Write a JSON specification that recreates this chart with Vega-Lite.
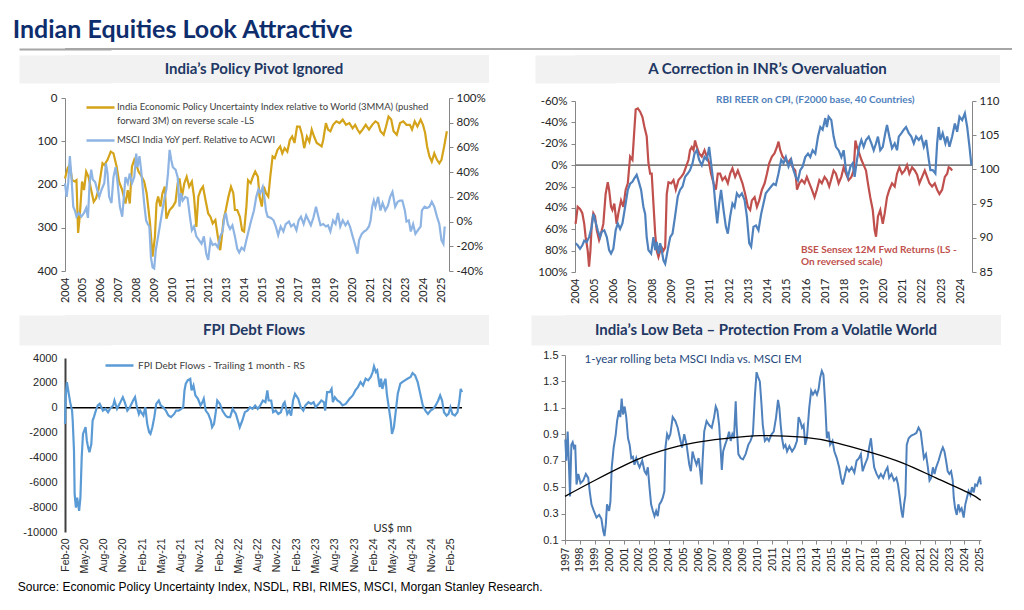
{
  "$schema": "https://vega.github.io/schema/vega-lite/v6.json",
  "background": "white",
  "padding": {"left": 12, "top": 18, "right": 4, "bottom": 4},
  "title": {"text": "Indian Equities Look Attractive", "anchor": "start", "font": "Lato", "fontSize": 25, "fontWeight": "bold", "color": "#0E2D6D", "offset": 5, "dx": -5},
  "config": {
    "view": {"stroke": null},
    "axis": {"grid": false, "labelOverlap": false, "tickCount": 100, "labelFont": "Lato", "labelFontSize": 11, "labelColor": "#262626", "domainColor": "#868686", "tickColor": "#868686", "tickSize": 4, "labelPadding": 3},
    "legend": {"labelFont": "Lato"}
  },
  "datasets": {
    "tl": [
      {"s":"EPU","t":2004.00,"v":186},{"s":"EPU","t":2004.15,"v":162},{"s":"EPU","t":2004.27,"v":155},{"s":"EPU","t":2004.40,"v":190},{"s":"EPU","t":2004.55,"v":193},{"s":"EPU","t":2004.64,"v":190},{"s":"EPU","t":2004.73,"v":312},{"s":"EPU","t":2004.82,"v":275},{"s":"EPU","t":2004.95,"v":193},{"s":"EPU","t":2005.06,"v":213},{"s":"EPU","t":2005.18,"v":170},{"s":"EPU","t":2005.31,"v":182},{"s":"EPU","t":2005.46,"v":213},{"s":"EPU","t":2005.60,"v":240},{"s":"EPU","t":2005.73,"v":232},{"s":"EPU","t":2005.86,"v":213},{"s":"EPU","t":2006.09,"v":151},{"s":"EPU","t":2006.19,"v":155},{"s":"EPU","t":2006.37,"v":143},{"s":"EPU","t":2006.55,"v":124},{"s":"EPU","t":2006.70,"v":128},{"s":"EPU","t":2006.88,"v":159},{"s":"EPU","t":2007.01,"v":193},{"s":"EPU","t":2007.19,"v":213},{"s":"EPU","t":2007.37,"v":244},{"s":"EPU","t":2007.50,"v":213},{"s":"EPU","t":2007.61,"v":244},{"s":"EPU","t":2007.73,"v":159},{"s":"EPU","t":2007.86,"v":143},{"s":"EPU","t":2008.01,"v":159},{"s":"EPU","t":2008.10,"v":170},{"s":"EPU","t":2008.28,"v":182},{"s":"EPU","t":2008.41,"v":193},{"s":"EPU","t":2008.55,"v":220},{"s":"EPU","t":2008.74,"v":290},{"s":"EPU","t":2008.88,"v":367},{"s":"EPU","t":2009.01,"v":321},{"s":"EPU","t":2009.10,"v":244},{"s":"EPU","t":2009.19,"v":228},{"s":"EPU","t":2009.32,"v":251},{"s":"EPU","t":2009.43,"v":220},{"s":"EPU","t":2009.56,"v":205},{"s":"EPU","t":2009.65,"v":279},{"s":"EPU","t":2009.83,"v":259},{"s":"EPU","t":2010.01,"v":251},{"s":"EPU","t":2010.16,"v":240},{"s":"EPU","t":2010.28,"v":197},{"s":"EPU","t":2010.38,"v":186},{"s":"EPU","t":2010.52,"v":228},{"s":"EPU","t":2010.65,"v":197},{"s":"EPU","t":2010.78,"v":182},{"s":"EPU","t":2010.92,"v":205},{"s":"EPU","t":2011.07,"v":193},{"s":"EPU","t":2011.19,"v":228},{"s":"EPU","t":2011.32,"v":298},{"s":"EPU","t":2011.43,"v":228},{"s":"EPU","t":2011.56,"v":213},{"s":"EPU","t":2011.69,"v":205},{"s":"EPU","t":2011.83,"v":236},{"s":"EPU","t":2011.98,"v":267},{"s":"EPU","t":2012.11,"v":275},{"s":"EPU","t":2012.23,"v":290},{"s":"EPU","t":2012.38,"v":282},{"s":"EPU","t":2012.52,"v":321},{"s":"EPU","t":2012.65,"v":352},{"s":"EPU","t":2012.74,"v":321},{"s":"EPU","t":2012.83,"v":282},{"s":"EPU","t":2012.96,"v":259},{"s":"EPU","t":2013.11,"v":228},{"s":"EPU","t":2013.25,"v":205},{"s":"EPU","t":2013.38,"v":220},{"s":"EPU","t":2013.47,"v":259},{"s":"EPU","t":2013.60,"v":259},{"s":"EPU","t":2013.75,"v":275},{"s":"EPU","t":2013.87,"v":306},{"s":"EPU","t":2013.98,"v":309},{"s":"EPU","t":2014.11,"v":251},{"s":"EPU","t":2014.20,"v":190},{"s":"EPU","t":2014.35,"v":197},{"s":"EPU","t":2014.47,"v":182},{"s":"EPU","t":2014.60,"v":170},{"s":"EPU","t":2014.75,"v":182},{"s":"EPU","t":2014.84,"v":228},{"s":"EPU","t":2014.97,"v":251},{"s":"EPU","t":2015.08,"v":205},{"s":"EPU","t":2015.20,"v":220},{"s":"EPU","t":2015.33,"v":228},{"s":"EPU","t":2015.44,"v":182},{"s":"EPU","t":2015.57,"v":135},{"s":"EPU","t":2015.69,"v":139},{"s":"EPU","t":2015.84,"v":120},{"s":"EPU","t":2015.99,"v":112},{"s":"EPU","t":2016.11,"v":128},{"s":"EPU","t":2016.24,"v":116},{"s":"EPU","t":2016.39,"v":124},{"s":"EPU","t":2016.53,"v":97},{"s":"EPU","t":2016.66,"v":89},{"s":"EPU","t":2016.79,"v":104},{"s":"EPU","t":2016.93,"v":66},{"s":"EPU","t":2017.08,"v":66},{"s":"EPU","t":2017.21,"v":85},{"s":"EPU","t":2017.33,"v":116},{"s":"EPU","t":2017.48,"v":89},{"s":"EPU","t":2017.62,"v":101},{"s":"EPU","t":2017.75,"v":73},{"s":"EPU","t":2017.88,"v":89},{"s":"EPU","t":2018.03,"v":104},{"s":"EPU","t":2018.17,"v":108},{"s":"EPU","t":2018.30,"v":112},{"s":"EPU","t":2018.39,"v":97},{"s":"EPU","t":2018.54,"v":58},{"s":"EPU","t":2018.66,"v":73},{"s":"EPU","t":2018.79,"v":77},{"s":"EPU","t":2018.94,"v":62},{"s":"EPU","t":2019.12,"v":54},{"s":"EPU","t":2019.30,"v":58},{"s":"EPU","t":2019.48,"v":50},{"s":"EPU","t":2019.66,"v":62},{"s":"EPU","t":2019.85,"v":58},{"s":"EPU","t":2020.03,"v":70},{"s":"EPU","t":2020.17,"v":62},{"s":"EPU","t":2020.30,"v":73},{"s":"EPU","t":2020.43,"v":81},{"s":"EPU","t":2020.58,"v":73},{"s":"EPU","t":2020.76,"v":62},{"s":"EPU","t":2020.94,"v":73},{"s":"EPU","t":2021.12,"v":62},{"s":"EPU","t":2021.30,"v":54},{"s":"EPU","t":2021.45,"v":58},{"s":"EPU","t":2021.58,"v":77},{"s":"EPU","t":2021.76,"v":85},{"s":"EPU","t":2021.89,"v":66},{"s":"EPU","t":2022.03,"v":43},{"s":"EPU","t":2022.18,"v":50},{"s":"EPU","t":2022.31,"v":77},{"s":"EPU","t":2022.49,"v":85},{"s":"EPU","t":2022.67,"v":58},{"s":"EPU","t":2022.85,"v":54},{"s":"EPU","t":2023.03,"v":62},{"s":"EPU","t":2023.22,"v":62},{"s":"EPU","t":2023.34,"v":73},{"s":"EPU","t":2023.49,"v":54},{"s":"EPU","t":2023.64,"v":66},{"s":"EPU","t":2023.82,"v":50},{"s":"EPU","t":2023.95,"v":62},{"s":"EPU","t":2024.07,"v":81},{"s":"EPU","t":2024.18,"v":112},{"s":"EPU","t":2024.31,"v":135},{"s":"EPU","t":2024.44,"v":147},{"s":"EPU","t":2024.58,"v":128},{"s":"EPU","t":2024.73,"v":143},{"s":"EPU","t":2024.86,"v":151},{"s":"EPU","t":2024.98,"v":143},{"s":"EPU","t":2025.13,"v":112},{"s":"EPU","t":2025.28,"v":77},
      {"s":"MSCI","t":2004.00,"v":31},{"s":"MSCI","t":2004.09,"v":20},{"s":"MSCI","t":2004.18,"v":31},{"s":"MSCI","t":2004.27,"v":53},{"s":"MSCI","t":2004.36,"v":36},{"s":"MSCI","t":2004.46,"v":12},{"s":"MSCI","t":2004.55,"v":9},{"s":"MSCI","t":2004.64,"v":4},{"s":"MSCI","t":2004.77,"v":7},{"s":"MSCI","t":2004.91,"v":4},{"s":"MSCI","t":2005.06,"v":7},{"s":"MSCI","t":2005.18,"v":11},{"s":"MSCI","t":2005.28,"v":3},{"s":"MSCI","t":2005.37,"v":31},{"s":"MSCI","t":2005.46,"v":42},{"s":"MSCI","t":2005.55,"v":34},{"s":"MSCI","t":2005.68,"v":32},{"s":"MSCI","t":2005.79,"v":26},{"s":"MSCI","t":2005.91,"v":20},{"s":"MSCI","t":2006.04,"v":26},{"s":"MSCI","t":2006.19,"v":31},{"s":"MSCI","t":2006.28,"v":47},{"s":"MSCI","t":2006.37,"v":39},{"s":"MSCI","t":2006.46,"v":20},{"s":"MSCI","t":2006.59,"v":15},{"s":"MSCI","t":2006.70,"v":36},{"s":"MSCI","t":2006.82,"v":44},{"s":"MSCI","t":2006.91,"v":34},{"s":"MSCI","t":2007.06,"v":12},{"s":"MSCI","t":2007.19,"v":4},{"s":"MSCI","t":2007.28,"v":20},{"s":"MSCI","t":2007.37,"v":36},{"s":"MSCI","t":2007.50,"v":31},{"s":"MSCI","t":2007.61,"v":39},{"s":"MSCI","t":2007.73,"v":31},{"s":"MSCI","t":2007.86,"v":36},{"s":"MSCI","t":2007.97,"v":55},{"s":"MSCI","t":2008.04,"v":44},{"s":"MSCI","t":2008.15,"v":53},{"s":"MSCI","t":2008.24,"v":42},{"s":"MSCI","t":2008.34,"v":26},{"s":"MSCI","t":2008.43,"v":12},{"s":"MSCI","t":2008.52,"v":1},{"s":"MSCI","t":2008.61,"v":-2},{"s":"MSCI","t":2008.70,"v":-4},{"s":"MSCI","t":2008.79,"v":-29},{"s":"MSCI","t":2008.88,"v":-37},{"s":"MSCI","t":2008.97,"v":-38},{"s":"MSCI","t":2009.06,"v":-23},{"s":"MSCI","t":2009.19,"v":-12},{"s":"MSCI","t":2009.28,"v":-4},{"s":"MSCI","t":2009.37,"v":4},{"s":"MSCI","t":2009.46,"v":12},{"s":"MSCI","t":2009.56,"v":20},{"s":"MSCI","t":2009.65,"v":26},{"s":"MSCI","t":2009.74,"v":39},{"s":"MSCI","t":2009.83,"v":58},{"s":"MSCI","t":2009.92,"v":50},{"s":"MSCI","t":2010.01,"v":44},{"s":"MSCI","t":2010.16,"v":42},{"s":"MSCI","t":2010.28,"v":36},{"s":"MSCI","t":2010.38,"v":12},{"s":"MSCI","t":2010.47,"v":23},{"s":"MSCI","t":2010.56,"v":17},{"s":"MSCI","t":2010.70,"v":20},{"s":"MSCI","t":2010.83,"v":19},{"s":"MSCI","t":2010.96,"v":4},{"s":"MSCI","t":2011.07,"v":-7},{"s":"MSCI","t":2011.19,"v":-4},{"s":"MSCI","t":2011.32,"v":-12},{"s":"MSCI","t":2011.47,"v":-15},{"s":"MSCI","t":2011.61,"v":-18},{"s":"MSCI","t":2011.74,"v":-12},{"s":"MSCI","t":2011.87,"v":-26},{"s":"MSCI","t":2011.98,"v":-31},{"s":"MSCI","t":2012.11,"v":-15},{"s":"MSCI","t":2012.23,"v":-19},{"s":"MSCI","t":2012.38,"v":-18},{"s":"MSCI","t":2012.52,"v":-21},{"s":"MSCI","t":2012.65,"v":-12},{"s":"MSCI","t":2012.78,"v":-8},{"s":"MSCI","t":2012.89,"v":4},{"s":"MSCI","t":2012.96,"v":7},{"s":"MSCI","t":2013.07,"v":-2},{"s":"MSCI","t":2013.20,"v":-6},{"s":"MSCI","t":2013.33,"v":-3},{"s":"MSCI","t":2013.47,"v":-12},{"s":"MSCI","t":2013.60,"v":-22},{"s":"MSCI","t":2013.71,"v":-25},{"s":"MSCI","t":2013.84,"v":-21},{"s":"MSCI","t":2013.98,"v":-23},{"s":"MSCI","t":2014.11,"v":-15},{"s":"MSCI","t":2014.24,"v":-7},{"s":"MSCI","t":2014.38,"v":1},{"s":"MSCI","t":2014.53,"v":9},{"s":"MSCI","t":2014.66,"v":20},{"s":"MSCI","t":2014.78,"v":26},{"s":"MSCI","t":2014.89,"v":23},{"s":"MSCI","t":2015.02,"v":28},{"s":"MSCI","t":2015.11,"v":20},{"s":"MSCI","t":2015.20,"v":9},{"s":"MSCI","t":2015.29,"v":4},{"s":"MSCI","t":2015.48,"v":3},{"s":"MSCI","t":2015.62,"v":1},{"s":"MSCI","t":2015.75,"v":-4},{"s":"MSCI","t":2015.88,"v":-11},{"s":"MSCI","t":2016.02,"v":-4},{"s":"MSCI","t":2016.17,"v":-8},{"s":"MSCI","t":2016.30,"v":-2},{"s":"MSCI","t":2016.48,"v":0},{"s":"MSCI","t":2016.60,"v":-4},{"s":"MSCI","t":2016.75,"v":-2},{"s":"MSCI","t":2016.90,"v":-7},{"s":"MSCI","t":2017.02,"v":1},{"s":"MSCI","t":2017.15,"v":4},{"s":"MSCI","t":2017.30,"v":-2},{"s":"MSCI","t":2017.44,"v":5},{"s":"MSCI","t":2017.57,"v":1},{"s":"MSCI","t":2017.70,"v":-3},{"s":"MSCI","t":2017.84,"v":3},{"s":"MSCI","t":2017.99,"v":12},{"s":"MSCI","t":2018.12,"v":4},{"s":"MSCI","t":2018.24,"v":-3},{"s":"MSCI","t":2018.39,"v":-2},{"s":"MSCI","t":2018.54,"v":-4},{"s":"MSCI","t":2018.66,"v":-3},{"s":"MSCI","t":2018.79,"v":-8},{"s":"MSCI","t":2018.94,"v":1},{"s":"MSCI","t":2019.08,"v":-2},{"s":"MSCI","t":2019.21,"v":7},{"s":"MSCI","t":2019.34,"v":-4},{"s":"MSCI","t":2019.48,"v":1},{"s":"MSCI","t":2019.63,"v":-3},{"s":"MSCI","t":2019.76,"v":0},{"s":"MSCI","t":2019.88,"v":-4},{"s":"MSCI","t":2020.03,"v":-12},{"s":"MSCI","t":2020.17,"v":-19},{"s":"MSCI","t":2020.30,"v":-26},{"s":"MSCI","t":2020.39,"v":-15},{"s":"MSCI","t":2020.54,"v":-10},{"s":"MSCI","t":2020.67,"v":-8},{"s":"MSCI","t":2020.79,"v":-7},{"s":"MSCI","t":2020.94,"v":-4},{"s":"MSCI","t":2021.03,"v":1},{"s":"MSCI","t":2021.12,"v":12},{"s":"MSCI","t":2021.21,"v":17},{"s":"MSCI","t":2021.30,"v":12},{"s":"MSCI","t":2021.45,"v":20},{"s":"MSCI","t":2021.58,"v":9},{"s":"MSCI","t":2021.70,"v":15},{"s":"MSCI","t":2021.85,"v":9},{"s":"MSCI","t":2022.00,"v":13},{"s":"MSCI","t":2022.12,"v":20},{"s":"MSCI","t":2022.25,"v":24},{"s":"MSCI","t":2022.40,"v":12},{"s":"MSCI","t":2022.54,"v":16},{"s":"MSCI","t":2022.67,"v":17},{"s":"MSCI","t":2022.80,"v":17},{"s":"MSCI","t":2022.94,"v":9},{"s":"MSCI","t":2023.03,"v":0},{"s":"MSCI","t":2023.16,"v":1},{"s":"MSCI","t":2023.27,"v":-8},{"s":"MSCI","t":2023.40,"v":-2},{"s":"MSCI","t":2023.53,"v":-10},{"s":"MSCI","t":2023.67,"v":-7},{"s":"MSCI","t":2023.82,"v":-4},{"s":"MSCI","t":2023.89,"v":9},{"s":"MSCI","t":2024.04,"v":12},{"s":"MSCI","t":2024.18,"v":11},{"s":"MSCI","t":2024.31,"v":12},{"s":"MSCI","t":2024.44,"v":16},{"s":"MSCI","t":2024.58,"v":12},{"s":"MSCI","t":2024.73,"v":4},{"s":"MSCI","t":2024.86,"v":-2},{"s":"MSCI","t":2024.98,"v":-15},{"s":"MSCI","t":2025.09,"v":-18},{"s":"MSCI","t":2025.16,"v":-4}
    ],
    "tr": [
      {"s":"SENSEX","t":2004.03,"v":55},{"s":"SENSEX","t":2004.14,"v":39},{"s":"SENSEX","t":2004.26,"v":41},{"s":"SENSEX","t":2004.38,"v":45},{"s":"SENSEX","t":2004.48,"v":55},{"s":"SENSEX","t":2004.55,"v":67},{"s":"SENSEX","t":2004.66,"v":80},{"s":"SENSEX","t":2004.73,"v":95},{"s":"SENSEX","t":2004.80,"v":80},{"s":"SENSEX","t":2004.87,"v":55},{"s":"SENSEX","t":2004.95,"v":45},{"s":"SENSEX","t":2005.04,"v":48},{"s":"SENSEX","t":2005.13,"v":61},{"s":"SENSEX","t":2005.25,"v":70},{"s":"SENSEX","t":2005.35,"v":64},{"s":"SENSEX","t":2005.47,"v":55},{"s":"SENSEX","t":2005.59,"v":27},{"s":"SENSEX","t":2005.70,"v":16},{"s":"SENSEX","t":2005.77,"v":23},{"s":"SENSEX","t":2005.87,"v":39},{"s":"SENSEX","t":2005.94,"v":42},{"s":"SENSEX","t":2006.04,"v":36},{"s":"SENSEX","t":2006.16,"v":55},{"s":"SENSEX","t":2006.25,"v":45},{"s":"SENSEX","t":2006.39,"v":33},{"s":"SENSEX","t":2006.51,"v":39},{"s":"SENSEX","t":2006.63,"v":23},{"s":"SENSEX","t":2006.74,"v":17},{"s":"SENSEX","t":2006.86,"v":-8},{"s":"SENSEX","t":2006.98,"v":-5},{"s":"SENSEX","t":2007.08,"v":-33},{"s":"SENSEX","t":2007.15,"v":-52},{"s":"SENSEX","t":2007.26,"v":-53},{"s":"SENSEX","t":2007.38,"v":-50},{"s":"SENSEX","t":2007.50,"v":-45},{"s":"SENSEX","t":2007.60,"v":-36},{"s":"SENSEX","t":2007.72,"v":-27},{"s":"SENSEX","t":2007.81,"v":-2},{"s":"SENSEX","t":2007.90,"v":8},{"s":"SENSEX","t":2007.98,"v":8},{"s":"SENSEX","t":2008.07,"v":36},{"s":"SENSEX","t":2008.16,"v":64},{"s":"SENSEX","t":2008.24,"v":80},{"s":"SENSEX","t":2008.33,"v":86},{"s":"SENSEX","t":2008.42,"v":80},{"s":"SENSEX","t":2008.50,"v":77},{"s":"SENSEX","t":2008.59,"v":80},{"s":"SENSEX","t":2008.68,"v":77},{"s":"SENSEX","t":2008.76,"v":27},{"s":"SENSEX","t":2008.85,"v":16},{"s":"SENSEX","t":2008.99,"v":17},{"s":"SENSEX","t":2009.11,"v":14},{"s":"SENSEX","t":2009.23,"v":23},{"s":"SENSEX","t":2009.37,"v":14},{"s":"SENSEX","t":2009.51,"v":11},{"s":"SENSEX","t":2009.63,"v":8},{"s":"SENSEX","t":2009.75,"v":2},{"s":"SENSEX","t":2009.89,"v":-5},{"s":"SENSEX","t":2009.97,"v":-14},{"s":"SENSEX","t":2010.06,"v":-17},{"s":"SENSEX","t":2010.15,"v":-14},{"s":"SENSEX","t":2010.23,"v":-23},{"s":"SENSEX","t":2010.32,"v":-17},{"s":"SENSEX","t":2010.44,"v":-11},{"s":"SENSEX","t":2010.58,"v":-8},{"s":"SENSEX","t":2010.72,"v":-14},{"s":"SENSEX","t":2010.84,"v":-8},{"s":"SENSEX","t":2010.96,"v":-2},{"s":"SENSEX","t":2011.06,"v":8},{"s":"SENSEX","t":2011.19,"v":17},{"s":"SENSEX","t":2011.31,"v":23},{"s":"SENSEX","t":2011.41,"v":8},{"s":"SENSEX","t":2011.53,"v":8},{"s":"SENSEX","t":2011.65,"v":14},{"s":"SENSEX","t":2011.79,"v":11},{"s":"SENSEX","t":2011.93,"v":17},{"s":"SENSEX","t":2012.05,"v":8},{"s":"SENSEX","t":2012.17,"v":3},{"s":"SENSEX","t":2012.31,"v":11},{"s":"SENSEX","t":2012.45,"v":5},{"s":"SENSEX","t":2012.57,"v":11},{"s":"SENSEX","t":2012.69,"v":17},{"s":"SENSEX","t":2012.83,"v":27},{"s":"SENSEX","t":2012.97,"v":39},{"s":"SENSEX","t":2013.09,"v":42},{"s":"SENSEX","t":2013.18,"v":33},{"s":"SENSEX","t":2013.32,"v":30},{"s":"SENSEX","t":2013.44,"v":39},{"s":"SENSEX","t":2013.56,"v":33},{"s":"SENSEX","t":2013.70,"v":23},{"s":"SENSEX","t":2013.84,"v":17},{"s":"SENSEX","t":2013.96,"v":8},{"s":"SENSEX","t":2014.08,"v":-2},{"s":"SENSEX","t":2014.22,"v":-8},{"s":"SENSEX","t":2014.35,"v":-11},{"s":"SENSEX","t":2014.48,"v":-17},{"s":"SENSEX","t":2014.56,"v":-22},{"s":"SENSEX","t":2014.65,"v":-14},{"s":"SENSEX","t":2014.77,"v":-8},{"s":"SENSEX","t":2014.91,"v":-5},{"s":"SENSEX","t":2015.05,"v":-2},{"s":"SENSEX","t":2015.17,"v":-5},{"s":"SENSEX","t":2015.29,"v":2},{"s":"SENSEX","t":2015.43,"v":5},{"s":"SENSEX","t":2015.52,"v":23},{"s":"SENSEX","t":2015.64,"v":17},{"s":"SENSEX","t":2015.77,"v":14},{"s":"SENSEX","t":2015.91,"v":17},{"s":"SENSEX","t":2016.03,"v":11},{"s":"SENSEX","t":2016.16,"v":17},{"s":"SENSEX","t":2016.29,"v":23},{"s":"SENSEX","t":2016.43,"v":30},{"s":"SENSEX","t":2016.55,"v":23},{"s":"SENSEX","t":2016.68,"v":14},{"s":"SENSEX","t":2016.81,"v":17},{"s":"SENSEX","t":2016.95,"v":11},{"s":"SENSEX","t":2017.07,"v":14},{"s":"SENSEX","t":2017.19,"v":20},{"s":"SENSEX","t":2017.33,"v":11},{"s":"SENSEX","t":2017.42,"v":5},{"s":"SENSEX","t":2017.54,"v":8},{"s":"SENSEX","t":2017.68,"v":17},{"s":"SENSEX","t":2017.82,"v":11},{"s":"SENSEX","t":2017.94,"v":2},{"s":"SENSEX","t":2018.06,"v":8},{"s":"SENSEX","t":2018.20,"v":14},{"s":"SENSEX","t":2018.34,"v":11},{"s":"SENSEX","t":2018.46,"v":5},{"s":"SENSEX","t":2018.55,"v":-23},{"s":"SENSEX","t":2018.63,"v":-17},{"s":"SENSEX","t":2018.75,"v":-11},{"s":"SENSEX","t":2018.86,"v":-5},{"s":"SENSEX","t":2018.98,"v":0},{"s":"SENSEX","t":2019.10,"v":5},{"s":"SENSEX","t":2019.20,"v":17},{"s":"SENSEX","t":2019.32,"v":30},{"s":"SENSEX","t":2019.45,"v":42},{"s":"SENSEX","t":2019.55,"v":61},{"s":"SENSEX","t":2019.62,"v":67},{"s":"SENSEX","t":2019.72,"v":48},{"s":"SENSEX","t":2019.84,"v":42},{"s":"SENSEX","t":2019.97,"v":55},{"s":"SENSEX","t":2020.07,"v":45},{"s":"SENSEX","t":2020.19,"v":30},{"s":"SENSEX","t":2020.31,"v":23},{"s":"SENSEX","t":2020.45,"v":17},{"s":"SENSEX","t":2020.59,"v":20},{"s":"SENSEX","t":2020.71,"v":8},{"s":"SENSEX","t":2020.83,"v":2},{"s":"SENSEX","t":2020.97,"v":8},{"s":"SENSEX","t":2021.11,"v":5},{"s":"SENSEX","t":2021.23,"v":0},{"s":"SENSEX","t":2021.35,"v":8},{"s":"SENSEX","t":2021.49,"v":2},{"s":"SENSEX","t":2021.63,"v":5},{"s":"SENSEX","t":2021.75,"v":9},{"s":"SENSEX","t":2021.87,"v":17},{"s":"SENSEX","t":2022.01,"v":11},{"s":"SENSEX","t":2022.15,"v":5},{"s":"SENSEX","t":2022.27,"v":11},{"s":"SENSEX","t":2022.39,"v":17},{"s":"SENSEX","t":2022.53,"v":20},{"s":"SENSEX","t":2022.67,"v":17},{"s":"SENSEX","t":2022.79,"v":23},{"s":"SENSEX","t":2022.91,"v":27},{"s":"SENSEX","t":2023.05,"v":23},{"s":"SENSEX","t":2023.19,"v":11},{"s":"SENSEX","t":2023.31,"v":8},{"s":"SENSEX","t":2023.39,"v":2},{"s":"SENSEX","t":2023.48,"v":3},{"s":"SENSEX","t":2023.57,"v":5},
      {"s":"REER","t":2004.03,"v":89.2},{"s":"REER","t":2004.14,"v":88.9},{"s":"REER","t":2004.26,"v":88.4},{"s":"REER","t":2004.38,"v":88.9},{"s":"REER","t":2004.48,"v":89.6},{"s":"REER","t":2004.61,"v":89.4},{"s":"REER","t":2004.73,"v":90.1},{"s":"REER","t":2004.87,"v":91.6},{"s":"REER","t":2004.95,"v":93.5},{"s":"REER","t":2005.04,"v":92.6},{"s":"REER","t":2005.18,"v":91.1},{"s":"REER","t":2005.30,"v":90.1},{"s":"REER","t":2005.39,"v":90.9},{"s":"REER","t":2005.52,"v":91.1},{"s":"REER","t":2005.65,"v":90.1},{"s":"REER","t":2005.77,"v":88.2},{"s":"REER","t":2005.87,"v":87.7},{"s":"REER","t":2005.99,"v":88.4},{"s":"REER","t":2006.11,"v":91.1},{"s":"REER","t":2006.22,"v":92.1},{"s":"REER","t":2006.34,"v":91.3},{"s":"REER","t":2006.46,"v":92.1},{"s":"REER","t":2006.60,"v":94.5},{"s":"REER","t":2006.74,"v":97.0},{"s":"REER","t":2006.86,"v":97.9},{"s":"REER","t":2006.98,"v":98.2},{"s":"REER","t":2007.08,"v":98.7},{"s":"REER","t":2007.20,"v":99.2},{"s":"REER","t":2007.29,"v":98.4},{"s":"REER","t":2007.43,"v":97.0},{"s":"REER","t":2007.55,"v":94.5},{"s":"REER","t":2007.64,"v":93.5},{"s":"REER","t":2007.72,"v":90.1},{"s":"REER","t":2007.81,"v":88.2},{"s":"REER","t":2007.95,"v":87.7},{"s":"REER","t":2008.07,"v":90.1},{"s":"REER","t":2008.16,"v":88.2},{"s":"REER","t":2008.24,"v":89.4},{"s":"REER","t":2008.33,"v":87.7},{"s":"REER","t":2008.42,"v":89.2},{"s":"REER","t":2008.50,"v":88.2},{"s":"REER","t":2008.59,"v":86.7},{"s":"REER","t":2008.68,"v":86.2},{"s":"REER","t":2008.81,"v":88.2},{"s":"REER","t":2008.94,"v":90.1},{"s":"REER","t":2009.06,"v":90.6},{"s":"REER","t":2009.19,"v":93.1},{"s":"REER","t":2009.33,"v":96.0},{"s":"REER","t":2009.45,"v":97.0},{"s":"REER","t":2009.58,"v":97.5},{"s":"REER","t":2009.71,"v":98.9},{"s":"REER","t":2009.85,"v":99.4},{"s":"REER","t":2009.97,"v":99.9},{"s":"REER","t":2010.10,"v":100.9},{"s":"REER","t":2010.20,"v":102.3},{"s":"REER","t":2010.32,"v":102.8},{"s":"REER","t":2010.44,"v":101.4},{"s":"REER","t":2010.58,"v":100.6},{"s":"REER","t":2010.72,"v":101.8},{"s":"REER","t":2010.84,"v":101.4},{"s":"REER","t":2010.96,"v":103.3},{"s":"REER","t":2011.06,"v":100.9},{"s":"REER","t":2011.19,"v":97.9},{"s":"REER","t":2011.31,"v":94.0},{"s":"REER","t":2011.38,"v":92.1},{"s":"REER","t":2011.48,"v":95.0},{"s":"REER","t":2011.58,"v":97.0},{"s":"REER","t":2011.71,"v":94.0},{"s":"REER","t":2011.83,"v":91.6},{"s":"REER","t":2011.93,"v":90.6},{"s":"REER","t":2012.05,"v":93.1},{"s":"REER","t":2012.17,"v":95.0},{"s":"REER","t":2012.28,"v":94.5},{"s":"REER","t":2012.40,"v":96.5},{"s":"REER","t":2012.52,"v":96.0},{"s":"REER","t":2012.66,"v":96.5},{"s":"REER","t":2012.80,"v":95.5},{"s":"REER","t":2012.92,"v":93.1},{"s":"REER","t":2013.04,"v":89.2},{"s":"REER","t":2013.14,"v":88.7},{"s":"REER","t":2013.26,"v":91.6},{"s":"REER","t":2013.39,"v":91.8},{"s":"REER","t":2013.52,"v":91.1},{"s":"REER","t":2013.66,"v":93.5},{"s":"REER","t":2013.78,"v":95.0},{"s":"REER","t":2013.90,"v":96.5},{"s":"REER","t":2014.04,"v":97.0},{"s":"REER","t":2014.18,"v":97.5},{"s":"REER","t":2014.30,"v":97.9},{"s":"REER","t":2014.42,"v":97.7},{"s":"REER","t":2014.56,"v":99.4},{"s":"REER","t":2014.70,"v":101.4},{"s":"REER","t":2014.82,"v":100.9},{"s":"REER","t":2014.94,"v":101.8},{"s":"REER","t":2015.08,"v":100.4},{"s":"REER","t":2015.22,"v":101.4},{"s":"REER","t":2015.34,"v":99.9},{"s":"REER","t":2015.46,"v":98.9},{"s":"REER","t":2015.57,"v":98.4},{"s":"REER","t":2015.69,"v":99.9},{"s":"REER","t":2015.81,"v":100.4},{"s":"REER","t":2015.95,"v":101.8},{"s":"REER","t":2016.09,"v":102.3},{"s":"REER","t":2016.21,"v":101.8},{"s":"REER","t":2016.33,"v":102.8},{"s":"REER","t":2016.47,"v":102.3},{"s":"REER","t":2016.61,"v":104.8},{"s":"REER","t":2016.73,"v":106.2},{"s":"REER","t":2016.85,"v":105.8},{"s":"REER","t":2016.99,"v":107.5},{"s":"REER","t":2017.07,"v":106.2},{"s":"REER","t":2017.16,"v":107.7},{"s":"REER","t":2017.30,"v":107.2},{"s":"REER","t":2017.42,"v":104.8},{"s":"REER","t":2017.54,"v":103.3},{"s":"REER","t":2017.68,"v":102.8},{"s":"REER","t":2017.82,"v":101.8},{"s":"REER","t":2017.94,"v":102.8},{"s":"REER","t":2018.06,"v":99.9},{"s":"REER","t":2018.16,"v":98.9},{"s":"REER","t":2018.29,"v":100.4},{"s":"REER","t":2018.41,"v":100.9},{"s":"REER","t":2018.51,"v":98.9},{"s":"REER","t":2018.63,"v":101.4},{"s":"REER","t":2018.75,"v":103.3},{"s":"REER","t":2018.86,"v":104.3},{"s":"REER","t":2018.98,"v":103.3},{"s":"REER","t":2019.10,"v":104.3},{"s":"REER","t":2019.24,"v":104.8},{"s":"REER","t":2019.38,"v":103.8},{"s":"REER","t":2019.50,"v":102.8},{"s":"REER","t":2019.62,"v":103.8},{"s":"REER","t":2019.72,"v":104.8},{"s":"REER","t":2019.84,"v":102.8},{"s":"REER","t":2019.97,"v":103.3},{"s":"REER","t":2020.10,"v":105.3},{"s":"REER","t":2020.19,"v":106.5},{"s":"REER","t":2020.31,"v":104.8},{"s":"REER","t":2020.45,"v":103.1},{"s":"REER","t":2020.59,"v":103.8},{"s":"REER","t":2020.71,"v":102.8},{"s":"REER","t":2020.80,"v":104.8},{"s":"REER","t":2020.94,"v":105.3},{"s":"REER","t":2021.06,"v":105.8},{"s":"REER","t":2021.18,"v":106.2},{"s":"REER","t":2021.32,"v":105.3},{"s":"REER","t":2021.45,"v":104.8},{"s":"REER","t":2021.58,"v":103.8},{"s":"REER","t":2021.70,"v":104.8},{"s":"REER","t":2021.84,"v":104.3},{"s":"REER","t":2021.97,"v":104.8},{"s":"REER","t":2022.10,"v":103.3},{"s":"REER","t":2022.22,"v":104.3},{"s":"REER","t":2022.36,"v":101.4},{"s":"REER","t":2022.44,"v":99.9},{"s":"REER","t":2022.56,"v":99.9},{"s":"REER","t":2022.70,"v":99.4},{"s":"REER","t":2022.79,"v":103.8},{"s":"REER","t":2022.87,"v":106.2},{"s":"REER","t":2022.96,"v":104.3},{"s":"REER","t":2023.08,"v":105.3},{"s":"REER","t":2023.22,"v":103.8},{"s":"REER","t":2023.31,"v":104.8},{"s":"REER","t":2023.43,"v":103.3},{"s":"REER","t":2023.57,"v":104.8},{"s":"REER","t":2023.71,"v":106.7},{"s":"REER","t":2023.83,"v":105.5},{"s":"REER","t":2023.95,"v":107.7},{"s":"REER","t":2024.09,"v":107.2},{"s":"REER","t":2024.23,"v":108.2},{"s":"REER","t":2024.35,"v":106.2},{"s":"REER","t":2024.47,"v":103.3},{"s":"REER","t":2024.57,"v":100.6}
    ],
    "bl": [
      {"s":"FPI","m":1.0,"v":-1300},{"s":"FPI","m":1.1,"v":850},{"s":"FPI","m":1.3,"v":2060},{"s":"FPI","m":1.5,"v":1390},{"s":"FPI","m":1.8,"v":450},{"s":"FPI","m":2.1,"v":-230},{"s":"FPI","m":2.2,"v":-1030},{"s":"FPI","m":2.4,"v":-3460},{"s":"FPI","m":2.5,"v":-6960},{"s":"FPI","m":2.7,"v":-8040},{"s":"FPI","m":2.9,"v":-7230},{"s":"FPI","m":3.0,"v":-7630},{"s":"FPI","m":3.2,"v":-8300},{"s":"FPI","m":3.4,"v":-7230},{"s":"FPI","m":3.6,"v":-4000},{"s":"FPI","m":3.8,"v":-2110},{"s":"FPI","m":4.0,"v":-1840},{"s":"FPI","m":4.2,"v":-1570},{"s":"FPI","m":4.4,"v":-2650},{"s":"FPI","m":4.6,"v":-3190},{"s":"FPI","m":4.8,"v":-3590},{"s":"FPI","m":5.1,"v":-2920},{"s":"FPI","m":5.3,"v":-1030},{"s":"FPI","m":5.5,"v":-760},{"s":"FPI","m":5.8,"v":-230},{"s":"FPI","m":6.1,"v":180},{"s":"FPI","m":6.4,"v":310},{"s":"FPI","m":6.9,"v":-230},{"s":"FPI","m":7.3,"v":-90},{"s":"FPI","m":7.7,"v":-360},{"s":"FPI","m":8.0,"v":-90},{"s":"FPI","m":8.5,"v":180},{"s":"FPI","m":8.7,"v":580},{"s":"FPI","m":9.1,"v":-90},{"s":"FPI","m":9.5,"v":310},{"s":"FPI","m":10.0,"v":850},{"s":"FPI","m":10.3,"v":450},{"s":"FPI","m":10.7,"v":-230},{"s":"FPI","m":11.1,"v":40},{"s":"FPI","m":11.6,"v":580},{"s":"FPI","m":11.9,"v":850},{"s":"FPI","m":12.2,"v":40},{"s":"FPI","m":12.5,"v":-500},{"s":"FPI","m":12.7,"v":-230},{"s":"FPI","m":13.2,"v":-630},{"s":"FPI","m":13.5,"v":40},{"s":"FPI","m":13.8,"v":-1300},{"s":"FPI","m":14.1,"v":-1980},{"s":"FPI","m":14.3,"v":-2110},{"s":"FPI","m":14.6,"v":-1570},{"s":"FPI","m":14.9,"v":-760},{"s":"FPI","m":15.2,"v":310},{"s":"FPI","m":15.6,"v":580},{"s":"FPI","m":15.9,"v":180},{"s":"FPI","m":16.3,"v":40},{"s":"FPI","m":16.7,"v":-230},{"s":"FPI","m":17.1,"v":-630},{"s":"FPI","m":17.5,"v":-760},{"s":"FPI","m":18.0,"v":-500},{"s":"FPI","m":18.3,"v":-230},{"s":"FPI","m":18.7,"v":-230},{"s":"FPI","m":19.1,"v":-90},{"s":"FPI","m":19.4,"v":40},{"s":"FPI","m":19.6,"v":1390},{"s":"FPI","m":19.8,"v":1930},{"s":"FPI","m":20.1,"v":2200},{"s":"FPI","m":20.5,"v":2330},{"s":"FPI","m":20.7,"v":1390},{"s":"FPI","m":21.0,"v":1790},{"s":"FPI","m":21.3,"v":990},{"s":"FPI","m":21.7,"v":720},{"s":"FPI","m":22.1,"v":180},{"s":"FPI","m":22.4,"v":450},{"s":"FPI","m":22.6,"v":720},{"s":"FPI","m":22.9,"v":-230},{"s":"FPI","m":23.3,"v":-500},{"s":"FPI","m":23.7,"v":-1030},{"s":"FPI","m":23.9,"v":-1570},{"s":"FPI","m":24.2,"v":-1300},{"s":"FPI","m":24.5,"v":-230},{"s":"FPI","m":24.7,"v":580},{"s":"FPI","m":25.1,"v":310},{"s":"FPI","m":25.5,"v":-230},{"s":"FPI","m":26.0,"v":-630},{"s":"FPI","m":26.3,"v":-760},{"s":"FPI","m":26.7,"v":-760},{"s":"FPI","m":27.1,"v":-90},{"s":"FPI","m":27.6,"v":-500},{"s":"FPI","m":27.9,"v":-1030},{"s":"FPI","m":28.2,"v":-1570},{"s":"FPI","m":28.6,"v":-1030},{"s":"FPI","m":29.0,"v":-360},{"s":"FPI","m":29.4,"v":-230},{"s":"FPI","m":29.8,"v":40},{"s":"FPI","m":30.2,"v":-90},{"s":"FPI","m":30.6,"v":180},{"s":"FPI","m":31.0,"v":-90},{"s":"FPI","m":31.4,"v":180},{"s":"FPI","m":31.8,"v":580},{"s":"FPI","m":32.2,"v":450},{"s":"FPI","m":32.5,"v":1390},{"s":"FPI","m":32.7,"v":580},{"s":"FPI","m":33.1,"v":580},{"s":"FPI","m":33.4,"v":-360},{"s":"FPI","m":33.8,"v":-230},{"s":"FPI","m":34.2,"v":-500},{"s":"FPI","m":34.6,"v":-360},{"s":"FPI","m":35.0,"v":310},{"s":"FPI","m":35.2,"v":450},{"s":"FPI","m":35.6,"v":-500},{"s":"FPI","m":35.9,"v":-230},{"s":"FPI","m":36.2,"v":-630},{"s":"FPI","m":36.5,"v":580},{"s":"FPI","m":36.8,"v":1120},{"s":"FPI","m":37.3,"v":720},{"s":"FPI","m":37.7,"v":40},{"s":"FPI","m":38.1,"v":-230},{"s":"FPI","m":38.4,"v":180},{"s":"FPI","m":38.9,"v":450},{"s":"FPI","m":39.3,"v":310},{"s":"FPI","m":39.7,"v":450},{"s":"FPI","m":40.0,"v":40},{"s":"FPI","m":40.5,"v":310},{"s":"FPI","m":40.9,"v":580},{"s":"FPI","m":41.3,"v":450},{"s":"FPI","m":41.5,"v":-230},{"s":"FPI","m":41.8,"v":1250},{"s":"FPI","m":42.2,"v":1250},{"s":"FPI","m":42.5,"v":1520},{"s":"FPI","m":42.7,"v":450},{"s":"FPI","m":43.0,"v":850},{"s":"FPI","m":43.4,"v":580},{"s":"FPI","m":43.8,"v":450},{"s":"FPI","m":44.2,"v":180},{"s":"FPI","m":44.7,"v":310},{"s":"FPI","m":45.3,"v":720},{"s":"FPI","m":45.8,"v":990},{"s":"FPI","m":46.2,"v":1390},{"s":"FPI","m":46.6,"v":1660},{"s":"FPI","m":47.0,"v":2060},{"s":"FPI","m":47.4,"v":1790},{"s":"FPI","m":47.8,"v":2330},{"s":"FPI","m":48.2,"v":2200},{"s":"FPI","m":48.6,"v":2470},{"s":"FPI","m":48.9,"v":2870},{"s":"FPI","m":49.1,"v":3330},{"s":"FPI","m":49.4,"v":2870},{"s":"FPI","m":49.6,"v":3000},{"s":"FPI","m":50.0,"v":1660},{"s":"FPI","m":50.2,"v":2330},{"s":"FPI","m":50.4,"v":1520},{"s":"FPI","m":50.7,"v":2060},{"s":"FPI","m":50.9,"v":2330},{"s":"FPI","m":51.1,"v":1120},{"s":"FPI","m":51.4,"v":40},{"s":"FPI","m":51.7,"v":-1030},{"s":"FPI","m":51.9,"v":-2110},{"s":"FPI","m":52.2,"v":-1570},{"s":"FPI","m":52.5,"v":-230},{"s":"FPI","m":52.8,"v":1120},{"s":"FPI","m":53.2,"v":1930},{"s":"FPI","m":53.5,"v":2060},{"s":"FPI","m":53.9,"v":2200},{"s":"FPI","m":54.3,"v":2330},{"s":"FPI","m":54.8,"v":2470},{"s":"FPI","m":55.1,"v":2790},{"s":"FPI","m":55.5,"v":2600},{"s":"FPI","m":55.9,"v":2060},{"s":"FPI","m":56.3,"v":1120},{"s":"FPI","m":56.7,"v":180},{"s":"FPI","m":57.1,"v":-230},{"s":"FPI","m":57.5,"v":-500},{"s":"FPI","m":57.9,"v":-230},{"s":"FPI","m":58.3,"v":-90},{"s":"FPI","m":58.7,"v":180},{"s":"FPI","m":59.1,"v":580},{"s":"FPI","m":59.4,"v":990},{"s":"FPI","m":59.7,"v":580},{"s":"FPI","m":60.0,"v":-360},{"s":"FPI","m":60.4,"v":-630},{"s":"FPI","m":60.7,"v":-500},{"s":"FPI","m":61.0,"v":40},{"s":"FPI","m":61.3,"v":-500},{"s":"FPI","m":61.7,"v":-630},{"s":"FPI","m":62.1,"v":-360},{"s":"FPI","m":62.4,"v":580},{"s":"FPI","m":62.6,"v":1520},{"s":"FPI","m":62.8,"v":1250}
    ],
    "br": [
      {"s":"BETA","t":1997.02,"v":0.86},{"s":"BETA","t":1997.09,"v":0.70},{"s":"BETA","t":1997.18,"v":0.92},{"s":"BETA","t":1997.25,"v":0.72},{"s":"BETA","t":1997.34,"v":0.43},{"s":"BETA","t":1997.43,"v":0.82},{"s":"BETA","t":1997.52,"v":0.84},{"s":"BETA","t":1997.60,"v":0.80},{"s":"BETA","t":1997.69,"v":0.82},{"s":"BETA","t":1997.78,"v":0.52},{"s":"BETA","t":1997.90,"v":0.60},{"s":"BETA","t":1998.05,"v":0.53},{"s":"BETA","t":1998.23,"v":0.55},{"s":"BETA","t":1998.41,"v":0.60},{"s":"BETA","t":1998.57,"v":0.57},{"s":"BETA","t":1998.68,"v":0.46},{"s":"BETA","t":1998.79,"v":0.37},{"s":"BETA","t":1998.95,"v":0.32},{"s":"BETA","t":1999.13,"v":0.27},{"s":"BETA","t":1999.31,"v":0.29},{"s":"BETA","t":1999.46,"v":0.26},{"s":"BETA","t":1999.58,"v":0.17},{"s":"BETA","t":1999.67,"v":0.13},{"s":"BETA","t":1999.76,"v":0.22},{"s":"BETA","t":1999.84,"v":0.37},{"s":"BETA","t":1999.98,"v":0.32},{"s":"BETA","t":2000.07,"v":0.39},{"s":"BETA","t":2000.16,"v":0.65},{"s":"BETA","t":2000.29,"v":0.80},{"s":"BETA","t":2000.43,"v":0.90},{"s":"BETA","t":2000.52,"v":1.00},{"s":"BETA","t":2000.65,"v":1.08},{"s":"BETA","t":2000.74,"v":1.03},{"s":"BETA","t":2000.83,"v":1.17},{"s":"BETA","t":2000.92,"v":1.05},{"s":"BETA","t":2001.03,"v":1.11},{"s":"BETA","t":2001.14,"v":1.03},{"s":"BETA","t":2001.26,"v":0.87},{"s":"BETA","t":2001.37,"v":0.82},{"s":"BETA","t":2001.48,"v":0.72},{"s":"BETA","t":2001.59,"v":0.73},{"s":"BETA","t":2001.70,"v":0.67},{"s":"BETA","t":2001.82,"v":0.72},{"s":"BETA","t":2001.93,"v":0.68},{"s":"BETA","t":2002.04,"v":0.65},{"s":"BETA","t":2002.22,"v":0.70},{"s":"BETA","t":2002.38,"v":0.62},{"s":"BETA","t":2002.49,"v":0.60},{"s":"BETA","t":2002.60,"v":0.65},{"s":"BETA","t":2002.71,"v":0.50},{"s":"BETA","t":2002.82,"v":0.37},{"s":"BETA","t":2002.94,"v":0.32},{"s":"BETA","t":2003.05,"v":0.28},{"s":"BETA","t":2003.16,"v":0.32},{"s":"BETA","t":2003.27,"v":0.28},{"s":"BETA","t":2003.38,"v":0.37},{"s":"BETA","t":2003.50,"v":0.39},{"s":"BETA","t":2003.61,"v":0.42},{"s":"BETA","t":2003.72,"v":0.47},{"s":"BETA","t":2003.79,"v":0.80},{"s":"BETA","t":2003.90,"v":0.90},{"s":"BETA","t":2004.01,"v":0.87},{"s":"BETA","t":2004.12,"v":0.90},{"s":"BETA","t":2004.28,"v":1.03},{"s":"BETA","t":2004.46,"v":1.00},{"s":"BETA","t":2004.62,"v":0.95},{"s":"BETA","t":2004.77,"v":0.87},{"s":"BETA","t":2004.91,"v":0.80},{"s":"BETA","t":2005.06,"v":0.90},{"s":"BETA","t":2005.22,"v":0.82},{"s":"BETA","t":2005.40,"v":0.67},{"s":"BETA","t":2005.51,"v":0.62},{"s":"BETA","t":2005.62,"v":0.77},{"s":"BETA","t":2005.74,"v":0.72},{"s":"BETA","t":2005.89,"v":0.67},{"s":"BETA","t":2006.03,"v":0.72},{"s":"BETA","t":2006.14,"v":0.62},{"s":"BETA","t":2006.23,"v":0.52},{"s":"BETA","t":2006.30,"v":0.70},{"s":"BETA","t":2006.41,"v":0.92},{"s":"BETA","t":2006.57,"v":1.00},{"s":"BETA","t":2006.74,"v":0.97},{"s":"BETA","t":2006.92,"v":0.95},{"s":"BETA","t":2007.08,"v":1.03},{"s":"BETA","t":2007.19,"v":1.11},{"s":"BETA","t":2007.30,"v":1.08},{"s":"BETA","t":2007.42,"v":0.97},{"s":"BETA","t":2007.53,"v":0.77},{"s":"BETA","t":2007.60,"v":0.63},{"s":"BETA","t":2007.69,"v":0.77},{"s":"BETA","t":2007.82,"v":0.82},{"s":"BETA","t":2007.98,"v":0.87},{"s":"BETA","t":2008.09,"v":0.92},{"s":"BETA","t":2008.20,"v":0.85},{"s":"BETA","t":2008.31,"v":0.90},{"s":"BETA","t":2008.42,"v":0.87},{"s":"BETA","t":2008.54,"v":1.15},{"s":"BETA","t":2008.60,"v":0.97},{"s":"BETA","t":2008.72,"v":0.75},{"s":"BETA","t":2008.87,"v":0.72},{"s":"BETA","t":2009.03,"v":0.71},{"s":"BETA","t":2009.21,"v":0.75},{"s":"BETA","t":2009.39,"v":0.82},{"s":"BETA","t":2009.54,"v":0.85},{"s":"BETA","t":2009.70,"v":0.90},{"s":"BETA","t":2009.84,"v":1.20},{"s":"BETA","t":2009.95,"v":1.37},{"s":"BETA","t":2010.06,"v":1.33},{"s":"BETA","t":2010.17,"v":1.30},{"s":"BETA","t":2010.28,"v":1.13},{"s":"BETA","t":2010.37,"v":0.97},{"s":"BETA","t":2010.51,"v":0.85},{"s":"BETA","t":2010.66,"v":0.87},{"s":"BETA","t":2010.78,"v":0.85},{"s":"BETA","t":2010.96,"v":0.90},{"s":"BETA","t":2011.11,"v":0.92},{"s":"BETA","t":2011.27,"v":1.03},{"s":"BETA","t":2011.40,"v":1.16},{"s":"BETA","t":2011.49,"v":1.10},{"s":"BETA","t":2011.58,"v":0.97},{"s":"BETA","t":2011.67,"v":0.87},{"s":"BETA","t":2011.78,"v":0.80},{"s":"BETA","t":2011.90,"v":0.82},{"s":"BETA","t":2012.01,"v":0.77},{"s":"BETA","t":2012.17,"v":0.81},{"s":"BETA","t":2012.35,"v":0.77},{"s":"BETA","t":2012.52,"v":0.80},{"s":"BETA","t":2012.68,"v":0.85},{"s":"BETA","t":2012.79,"v":1.03},{"s":"BETA","t":2012.90,"v":1.00},{"s":"BETA","t":2013.02,"v":0.95},{"s":"BETA","t":2013.13,"v":0.97},{"s":"BETA","t":2013.24,"v":0.82},{"s":"BETA","t":2013.35,"v":0.87},{"s":"BETA","t":2013.51,"v":1.10},{"s":"BETA","t":2013.64,"v":1.23},{"s":"BETA","t":2013.76,"v":1.20},{"s":"BETA","t":2013.91,"v":1.23},{"s":"BETA","t":2014.03,"v":1.20},{"s":"BETA","t":2014.14,"v":1.24},{"s":"BETA","t":2014.25,"v":1.33},{"s":"BETA","t":2014.36,"v":1.38},{"s":"BETA","t":2014.47,"v":1.35},{"s":"BETA","t":2014.59,"v":1.13},{"s":"BETA","t":2014.70,"v":0.87},{"s":"BETA","t":2014.81,"v":0.92},{"s":"BETA","t":2014.92,"v":0.82},{"s":"BETA","t":2015.08,"v":0.85},{"s":"BETA","t":2015.21,"v":0.77},{"s":"BETA","t":2015.37,"v":0.72},{"s":"BETA","t":2015.53,"v":0.65},{"s":"BETA","t":2015.66,"v":0.57},{"s":"BETA","t":2015.77,"v":0.52},{"s":"BETA","t":2015.88,"v":0.57},{"s":"BETA","t":2016.04,"v":0.65},{"s":"BETA","t":2016.20,"v":0.62},{"s":"BETA","t":2016.38,"v":0.65},{"s":"BETA","t":2016.56,"v":0.61},{"s":"BETA","t":2016.71,"v":0.70},{"s":"BETA","t":2016.87,"v":0.72},{"s":"BETA","t":2017.00,"v":0.75},{"s":"BETA","t":2017.12,"v":0.62},{"s":"BETA","t":2017.27,"v":0.67},{"s":"BETA","t":2017.45,"v":0.72},{"s":"BETA","t":2017.56,"v":0.80},{"s":"BETA","t":2017.68,"v":0.87},{"s":"BETA","t":2017.77,"v":0.77},{"s":"BETA","t":2017.90,"v":0.65},{"s":"BETA","t":2018.06,"v":0.60},{"s":"BETA","t":2018.21,"v":0.57},{"s":"BETA","t":2018.35,"v":0.60},{"s":"BETA","t":2018.51,"v":0.57},{"s":"BETA","t":2018.66,"v":0.62},{"s":"BETA","t":2018.80,"v":0.65},{"s":"BETA","t":2018.91,"v":0.57},{"s":"BETA","t":2019.07,"v":0.60},{"s":"BETA","t":2019.24,"v":0.55},{"s":"BETA","t":2019.40,"v":0.57},{"s":"BETA","t":2019.51,"v":0.52},{"s":"BETA","t":2019.63,"v":0.42},{"s":"BETA","t":2019.74,"v":0.32},{"s":"BETA","t":2019.83,"v":0.27},{"s":"BETA","t":2019.92,"v":0.37},{"s":"BETA","t":2020.01,"v":0.44},{"s":"BETA","t":2020.10,"v":0.82},{"s":"BETA","t":2020.23,"v":0.87},{"s":"BETA","t":2020.41,"v":0.89},{"s":"BETA","t":2020.59,"v":0.90},{"s":"BETA","t":2020.75,"v":0.91},{"s":"BETA","t":2020.90,"v":0.95},{"s":"BETA","t":2021.04,"v":0.92},{"s":"BETA","t":2021.15,"v":0.82},{"s":"BETA","t":2021.26,"v":0.72},{"s":"BETA","t":2021.40,"v":0.75},{"s":"BETA","t":2021.53,"v":0.65},{"s":"BETA","t":2021.64,"v":0.55},{"s":"BETA","t":2021.75,"v":0.57},{"s":"BETA","t":2021.87,"v":0.65},{"s":"BETA","t":2021.98,"v":0.60},{"s":"BETA","t":2022.09,"v":0.65},{"s":"BETA","t":2022.25,"v":0.70},{"s":"BETA","t":2022.43,"v":0.77},{"s":"BETA","t":2022.54,"v":0.80},{"s":"BETA","t":2022.65,"v":0.77},{"s":"BETA","t":2022.76,"v":0.70},{"s":"BETA","t":2022.87,"v":0.62},{"s":"BETA","t":2022.98,"v":0.60},{"s":"BETA","t":2023.10,"v":0.62},{"s":"BETA","t":2023.21,"v":0.55},{"s":"BETA","t":2023.28,"v":0.42},{"s":"BETA","t":2023.37,"v":0.34},{"s":"BETA","t":2023.48,"v":0.29},{"s":"BETA","t":2023.59,"v":0.37},{"s":"BETA","t":2023.70,"v":0.32},{"s":"BETA","t":2023.81,"v":0.34},{"s":"BETA","t":2023.95,"v":0.27},{"s":"BETA","t":2024.06,"v":0.37},{"s":"BETA","t":2024.17,"v":0.42},{"s":"BETA","t":2024.28,"v":0.47},{"s":"BETA","t":2024.40,"v":0.44},{"s":"BETA","t":2024.51,"v":0.50},{"s":"BETA","t":2024.62,"v":0.46},{"s":"BETA","t":2024.73,"v":0.52},{"s":"BETA","t":2024.85,"v":0.51},{"s":"BETA","t":2024.96,"v":0.55},{"s":"BETA","t":2025.05,"v":0.58},{"s":"BETA","t":2025.11,"v":0.52}
    ],
    "trend": [
      {"t":1997.0,"v":0.43},{"t":1999.0,"v":0.55},{"t":2001.7,"v":0.70},{"t":2003.5,"v":0.775},{"t":2005.7,"v":0.835},{"t":2008.0,"v":0.87},{"t":2010.2,"v":0.89},{"t":2013.1,"v":0.878},{"t":2015.35,"v":0.835},{"t":2017.6,"v":0.765},{"t":2019.8,"v":0.684},{"t":2022.07,"v":0.57},{"t":2024.3,"v":0.456},{"t":2025.1,"v":0.40}
    ]
  },
  "resolve": {"scale": {"color": "independent"}, "legend": {"color": "independent"}},
  "concat": [
    {
      "resolve": {"scale": {"color": "independent"}, "legend": {"color": "independent"}},
      "concat": [
        {
          "width": 947, "height": 2,
          "view": {"fill": "#A6A6A6", "stroke": null},
          "data": {"values": [{"h": ""}]},
          "mark": {"type": "text", "fontSize": 0},
          "encoding": {"text": {"field": "h"},
                       "y": {"datum": 0, "type": "quantitative", "scale": {"domain": [-1, 1]}, "axis": {"domainColor": "#A6A6A6", "domainWidth": 92, "domainCap": "butt", "labels": false, "ticks": false, "title": null}}}
        },
        {
          "resolve": {"scale": {"color": "independent"}, "legend": {"color": "independent"}},
          "concat": [
            {
              "resolve": {"scale": {"color": "independent"}, "legend": {"color": "independent"}},
              "concat": [
                {
                  "width": 424, "height": 28,
                  "view": {"fill": "#F2F2F2", "stroke": null},
                  "data": {"values": [{"h": "India’s Policy Pivot Ignored"}]},
                  "mark": {"type": "text", "font": "Lato", "fontSize": 15, "fontWeight": "bold", "color": "#1F3864", "dx": -23},
                  "encoding": {"text": {"field": "h"},
                               "y": {"datum": 0, "type": "quantitative", "scale": {"domain": [-1, 1]}, "axis": {"domainColor": "#F2F2F2", "domainWidth": 92, "domainCap": "butt", "labels": false, "ticks": false, "title": null}}}
                },
                {
                  "width": 384, "height": 173,
                  "data": {"name": "tl"},
                  "layer": [
                    {
                      "transform": [{"filter": "datum.s == 'EPU'"}],
                      "mark": {"type": "line", "strokeWidth": 2.2},
                      "encoding": {
                        "x": {"field": "t", "type": "quantitative", "scale": {"domain": [2004, 2025.4], "nice": false, "zero": false},
                              "axis": {"values": [2004,2005,2006,2007,2008,2009,2010,2011,2012,2013,2014,2015,2016,2017,2018,2019,2020,2021,2022,2023,2024,2025], "tickCount": 100, "format": "d", "labelAngle": -90, "labelOverlap": false, "domain": false, "ticks": false, "labelPadding": 6, "title": null}},
                        "y": {"field": "v", "type": "quantitative", "scale": {"domain": [0, 400], "reverse": true, "nice": false},
                              "axis": {"orient": "left", "values": [0,100,200,300,400], "tickCount": 100, "format": "d", "labelOverlap": false, "title": null, "labelFontSize": 11.5, "labelPadding": 4}},
                        "color": {"field": "s", "type": "nominal", "scale": {"domain": ["EPU", "MSCI"], "range": ["#D4A319", "#8EB4E3"]},
                                  "legend": {"orient": "none", "legendX": 20, "legendY": -6, "title": null, "symbolType": "M-1,0H1", "symbolStrokeWidth": 2.5, "symbolSize": 784, "labelFont": "Lato", "labelFontSize": 9.5, "labelColor": "#404040", "labelLimit": 500, "labelOffset": 1, "rowPadding": -10, "labelBaseline": "top",
                                             "encode": {"labels": {"update": {"dy": {"value": -6}, "lineHeight": {"value": 14}}}},
                                             "labelExpr": "datum.value == 'EPU' ? ['India Economic Policy Uncertainty Index relative to World (3MMA) (pushed', 'forward 3M)  on reverse scale -LS'] : 'MSCI India YoY perf. Relative to ACWI'"}}
                      }
                    },
                    {
                      "transform": [{"filter": "datum.s == 'MSCI'"}],
                      "mark": {"type": "line", "strokeWidth": 2.2},
                      "encoding": {
                        "x": {"field": "t", "type": "quantitative", "scale": {"domain": [2004, 2025.4], "nice": false, "zero": false}},
                        "y": {"field": "v", "type": "quantitative", "scale": {"domain": [-40, 100], "nice": false},
                              "axis": {"orient": "right", "values": [-40,-20,0,20,40,60,80,100], "tickCount": 100, "labelOverlap": false, "labelExpr": "datum.value + '%'", "title": null, "labelFontSize": 11.5}},
                        "color": {"field": "s", "type": "nominal"}
                      }
                    }
                  ],
                  "resolve": {"scale": {"y": "independent"}}
                }
              ],
              "columns": 1, "spacing": 9, "align": "none"
            },
            {
              "resolve": {"scale": {"color": "independent"}, "legend": {"color": "independent"}},
              "concat": [
                {
                  "width": 425, "height": 28,
                  "view": {"fill": "#F2F2F2", "stroke": null},
                  "data": {"values": [{"h": "A Correction in INR’s Overvaluation"}]},
                  "mark": {"type": "text", "font": "Lato", "fontSize": 15, "fontWeight": "bold", "color": "#1F3864", "dx": -20},
                  "encoding": {"text": {"field": "h"},
                               "y": {"datum": 0, "type": "quantitative", "scale": {"domain": [-1, 1]}, "axis": {"domainColor": "#F2F2F2", "domainWidth": 80, "domainCap": "butt", "labels": false, "ticks": false, "title": null}}}
                },
                {
                  "width": 397, "height": 171,
                  "layer": [
                    {
                      "layer": [
                        {
                          "data": {"values": [{"z": 0}]},
                          "mark": {"type": "rule", "color": "#7F7F7F", "strokeWidth": 1.6},
                          "encoding": {"y": {"datum": 0, "type": "quantitative", "scale": {"domain": [-60, 100], "reverse": true, "nice": false}}}
                        },
                        {
                          "data": {"name": "tr"},
                          "transform": [{"filter": "datum.s == 'SENSEX'"}],
                          "mark": {"type": "line", "strokeWidth": 2.2},
                          "encoding": {
                            "x": {"field": "t", "type": "quantitative", "scale": {"domain": [2004, 2024.6], "nice": false, "zero": false},
                                  "axis": {"values": [2004,2005,2006,2007,2008,2009,2010,2011,2012,2013,2014,2015,2016,2017,2018,2019,2020,2021,2022,2023,2024], "tickCount": 100, "format": "d", "labelAngle": -90, "labelOverlap": false, "domain": false, "ticks": false, "labelPadding": 6, "title": null}},
                            "y": {"field": "v", "type": "quantitative", "scale": {"domain": [-60, 100], "reverse": true, "nice": false},
                                  "axis": {"orient": "left", "values": [-60,-40,-20,0,20,40,60,80,100], "tickCount": 100, "labelOverlap": false, "labelExpr": "datum.value + '%'", "title": null, "labelFontSize": 11.5, "labelPadding": 4}},
                            "color": {"field": "s", "type": "nominal", "scale": {"domain": ["SENSEX"], "range": ["#C0504D"]},
                                      "legend": {"orient": "none", "legendX": 216, "legendY": 144, "title": null, "symbolOpacity": 0, "symbolSize": 0, "labelOffset": 0, "labelFont": "Lato", "labelFontSize": 10, "labelFontWeight": "bold", "labelColor": "#C0504D", "labelLimit": 400,
                                                 "labelExpr": "['BSE Sensex 12M Fwd Returns (LS -', 'On reversed scale)']"}}
                          }
                        }
                      ]
                    },
                    {
                      "data": {"name": "tr"},
                      "transform": [{"filter": "datum.s == 'REER'"}],
                      "mark": {"type": "line", "strokeWidth": 2.2},
                      "encoding": {
                        "x": {"field": "t", "type": "quantitative", "scale": {"domain": [2004, 2024.6], "nice": false, "zero": false}},
                        "y": {"field": "v", "type": "quantitative", "scale": {"domain": [85, 110], "nice": false},
                              "axis": {"orient": "right", "values": [85,90,95,100,105,110], "tickCount": 100, "labelOverlap": false, "format": "d", "title": null, "labelFontSize": 11.5}},
                        "color": {"field": "s", "type": "nominal", "scale": {"domain": ["REER"], "range": ["#4F81BD"]},
                                  "legend": {"orient": "none", "legendX": 131, "legendY": -6, "title": null, "symbolOpacity": 0, "symbolSize": 0, "labelOffset": 0, "labelFont": "Lato", "labelFontSize": 10, "labelFontWeight": "bold", "labelColor": "#4F81BD", "labelLimit": 400,
                                             "labelExpr": "'RBI REER on CPI, (F2000 base, 40 Countries)'"}}
                      }
                    }
                  ],
                  "resolve": {"scale": {"y": "independent", "color": "independent"}}
                }
              ],
              "columns": 1, "spacing": 12, "align": "none"
            }
          ],
          "spacing": 48, "align": "none"
        }
      ],
      "columns": 1, "spacing": 5, "align": "none"
    },
    {
      "resolve": {"scale": {"color": "independent"}, "legend": {"color": "independent"}},
      "concat": [
        {
          "resolve": {"scale": {"color": "independent"}, "legend": {"color": "independent"}},
          "concat": [
            {
              "width": 424, "height": 30,
              "view": {"fill": "#F2F2F2", "stroke": null},
              "data": {"values": [{"h": "FPI Debt Flows"}]},
              "mark": {"type": "text", "font": "Lato", "fontSize": 15, "fontWeight": "bold", "color": "#1F3864", "dx": -23},
              "encoding": {"text": {"field": "h"},
                           "y": {"datum": 0, "type": "quantitative", "scale": {"domain": [-1, 1]}, "axis": {"domainColor": "#F2F2F2", "domainWidth": 92, "domainCap": "butt", "labels": false, "ticks": false, "title": null}}}
            },
            {
              "width": 397, "height": 174,
              "layer": [
                {
                  "data": {"values": [{"z": 0}]},
                  "mark": {"type": "rule", "color": "#000000", "strokeWidth": 1.5},
                  "encoding": {"y": {"datum": 0, "type": "quantitative", "scale": {"domain": [-10000, 4000], "nice": false}}}
                },
                {
                  "data": {"name": "bl"},
                  "mark": {"type": "line", "strokeWidth": 2.2},
                  "encoding": {
                    "x": {"field": "m", "type": "quantitative", "scale": {"domain": [1, 62.8], "nice": false, "zero": false},
                          "axis": {"values": [1,4,7,10,13,16,19,22,25,28,31,34,37,40,43,46,49,52,55,58,61], "tickCount": 100, "labelOverlap": false, "labelExpr": "['Jan','Feb','Mar','Apr','May','Jun','Jul','Aug','Sep','Oct','Nov','Dec'][datum.value % 12] + '-' + (20 + floor(datum.value / 12))", "labelAngle": -90, "domain": false, "ticks": false, "labelPadding": 6, "title": null, "labelFont": "Liberation Sans", "labelFontSize": 10.5}},
                    "y": {"field": "v", "type": "quantitative", "scale": {"domain": [-10000, 4000], "nice": false},
                          "axis": {"values": [-10000,-8000,-6000,-4000,-2000,0,2000,4000], "tickCount": 100, "labelOverlap": false, "labelExpr": "'' + datum.value", "labelFont": "Liberation Sans", "labelFontSize": 11, "ticks": false, "domainColor": "#404040", "domainWidth": 2, "labelPadding": 8,
                                   "title": "US$ mn", "titleAngle": 0, "titleX": 308, "titleY": 170, "titleAlign": "left", "titleBaseline": "middle", "titleFont": "Lato", "titleFontSize": 11, "titleFontWeight": "normal", "titleColor": "#262626"}},
                    "color": {"field": "s", "type": "nominal", "scale": {"domain": ["FPI"], "range": ["#5B9BD5"]},
                              "legend": {"orient": "none", "legendX": 39, "legendY": -8, "title": null, "symbolType": "M-1,0H1", "symbolStrokeWidth": 2.5, "symbolSize": 784, "labelFont": "Lato", "labelFontSize": 10, "labelColor": "#404040", "labelLimit": 500, "labelOffset": 3,
                                         "labelExpr": "'FPI Debt Flows - Trailing 1 month - RS'"}}
                  }
                }
              ]
            }
          ],
          "columns": 1, "spacing": 5, "align": "none"
        },
        {
          "resolve": {"scale": {"color": "independent"}, "legend": {"color": "independent"}},
          "concat": [
            {
              "width": 436, "height": 30,
              "view": {"fill": "#F2F2F2", "stroke": null},
              "data": {"values": [{"h": "India’s Low Beta – Protection From a Volatile World"}]},
              "mark": {"type": "text", "font": "Lato", "fontSize": 15, "fontWeight": "bold", "color": "#1F3864", "dx": -17},
              "encoding": {"text": {"field": "h"},
                           "y": {"datum": 0, "type": "quantitative", "scale": {"domain": [-1, 1]}, "axis": {"domainColor": "#F2F2F2", "domainWidth": 68, "domainCap": "butt", "labels": false, "ticks": false, "title": null}}}
            },
            {
              "width": 416, "height": 185,
              "layer": [
                {
                  "data": {"name": "br"},
                  "mark": {"type": "line", "strokeWidth": 2},
                  "encoding": {
                    "x": {"field": "t", "type": "quantitative", "scale": {"domain": [1997, 2025.12], "nice": false, "zero": false},
                          "axis": {"values": [1997,1998,1999,2000,2001,2002,2003,2004,2005,2006,2007,2008,2009,2010,2011,2012,2013,2014,2015,2016,2017,2018,2019,2020,2021,2022,2023,2024,2025], "tickCount": 100, "labelOverlap": false, "format": "d", "labelAngle": -90, "labelPadding": 3, "title": null, "labelFont": "Liberation Sans", "labelFontSize": 11}},
                    "y": {"field": "v", "type": "quantitative", "scale": {"domain": [0.1, 1.5], "nice": false, "zero": false},
                          "axis": {"values": [0.1,0.3,0.5,0.7,0.9,1.1,1.3,1.5], "tickCount": 100, "labelOverlap": false, "format": ".1f", "title": null, "labelFont": "Liberation Sans", "labelFontSize": 11}},
                    "color": {"field": "s", "type": "nominal", "scale": {"domain": ["BETA"], "range": ["#4F81BD"]},
                              "legend": {"orient": "none", "legendX": 8, "legendY": -1, "title": null, "symbolOpacity": 0, "symbolSize": 0, "labelOffset": 0, "labelFont": "Lato", "labelFontSize": 11.5, "labelColor": "#1F497D", "labelLimit": 400,
                                         "labelExpr": "'1-year rolling beta MSCI India vs. MSCI  EM'"}}
                  }
                },
                {
                  "data": {"name": "trend"},
                  "mark": {"type": "line", "strokeWidth": 1.3, "color": "#000000", "interpolate": "natural"},
                  "encoding": {
                    "x": {"field": "t", "type": "quantitative", "scale": {"domain": [1997, 2025.12], "nice": false, "zero": false}},
                    "y": {"field": "v", "type": "quantitative", "scale": {"domain": [0.1, 1.5], "nice": false, "zero": false}}
                  }
                }
              ]
            }
          ],
          "columns": 1, "spacing": 4, "align": "none"
        }
      ],
      "spacing": 53, "align": "none",
      "title": {"text": "Source:  Economic Policy Uncertainty Index, NSDL, RBI, RIMES, MSCI, Morgan Stanley Research.", "orient": "bottom", "anchor": "start", "font": "Liberation Sans", "fontSize": 12, "fontWeight": "normal", "color": "#000000", "offset": 9, "dx": -5}
    }
  ],
  "columns": 1, "spacing": 11, "align": "none"
}
